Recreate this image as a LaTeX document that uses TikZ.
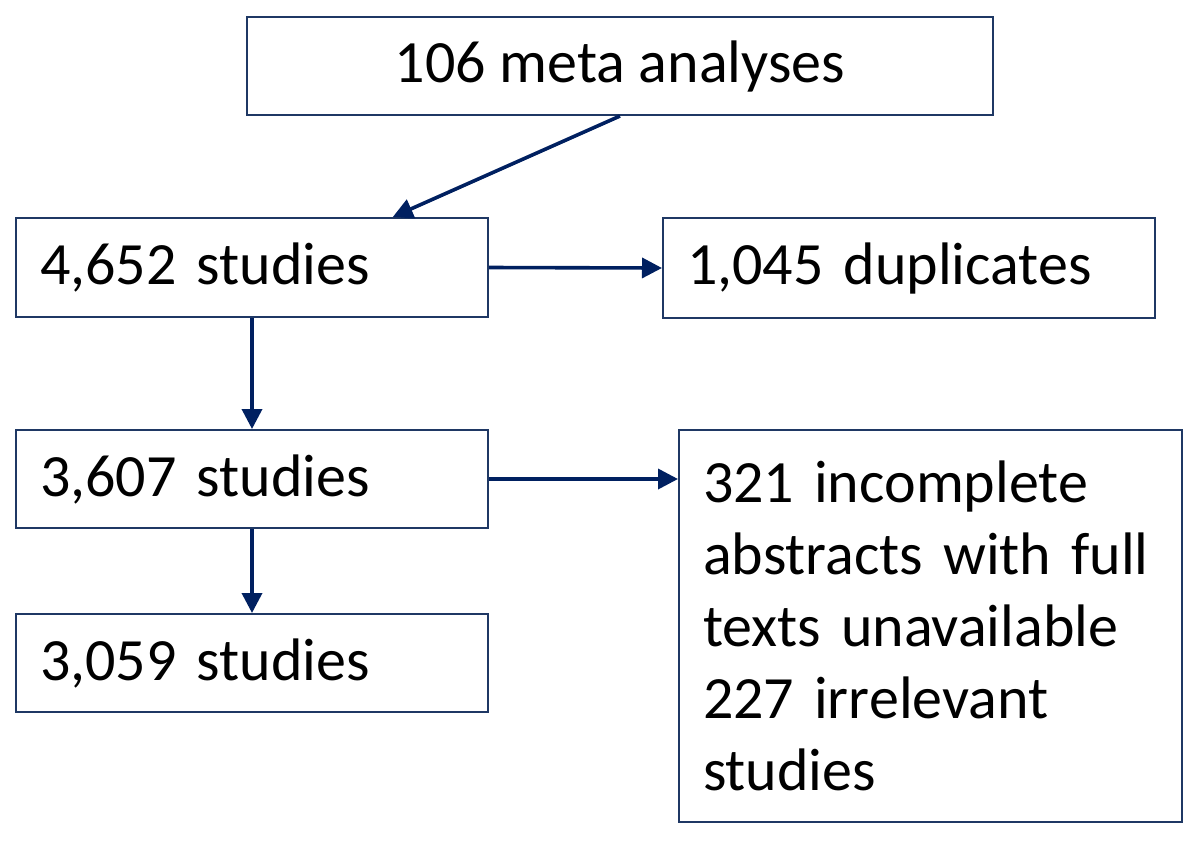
\documentclass[tikz,border=0pt]{standalone}
\usepackage{fontspec}
\setmainfont{Carlito}
\usetikzlibrary{arrows.meta,calc}
\definecolor{boxc}{RGB}{31,56,100}
\definecolor{arrc}{RGB}{0,32,96}
\tikzset{
  box/.style={draw=boxc, line width=1pt, rectangle, inner xsep=12pt, inner ysep=0pt,
    font=\fontsize{30}{36}\selectfont, text=black},
  lbox/.style={box, align=left},
  conn/.style={draw=arrc, line width=1.8pt, -{Triangle[length=10pt,width=10pt]}}
}
\begin{document}
\begin{tikzpicture}[x=0.5pt,y=-0.5pt]
\useasboundingbox (0,0) rectangle (1200,842);
\node[box, minimum width=373pt, minimum height=49pt] (top) at (620,66) {106 meta analyses};
\node[lbox, text width=212pt, minimum height=49.5pt] (s4652) at (252,267.5) {4,652 studies};
\node[lbox, text width=222pt, minimum height=50pt] (dup) at (909,268) {1,045 duplicates};
\node[lbox, text width=212pt, minimum height=49pt] (s3607) at (252,479) {3,607 studies};
\node[lbox, text width=212pt, minimum height=49pt] (s3059) at (252,663) {3,059 studies};
\node[lbox, text width=227.5pt, minimum height=196pt] (big) at (930.5,626) {321 incomplete\\abstracts with full\\texts unavailable\\227 irrelevant\\studies};
\draw[conn] (top.south) -- ($(s4652.north west)!0.797!(s4652.north east)$);
\draw[conn] (s4652.east) -- (dup.west);
\draw[conn] (s3607.east) -- (big.west |- s3607.east);
\draw[conn] (s4652.south) -- (s3607.north);
\draw[conn] (s3607.south) -- (s3059.north);
\end{tikzpicture}
\end{document}
